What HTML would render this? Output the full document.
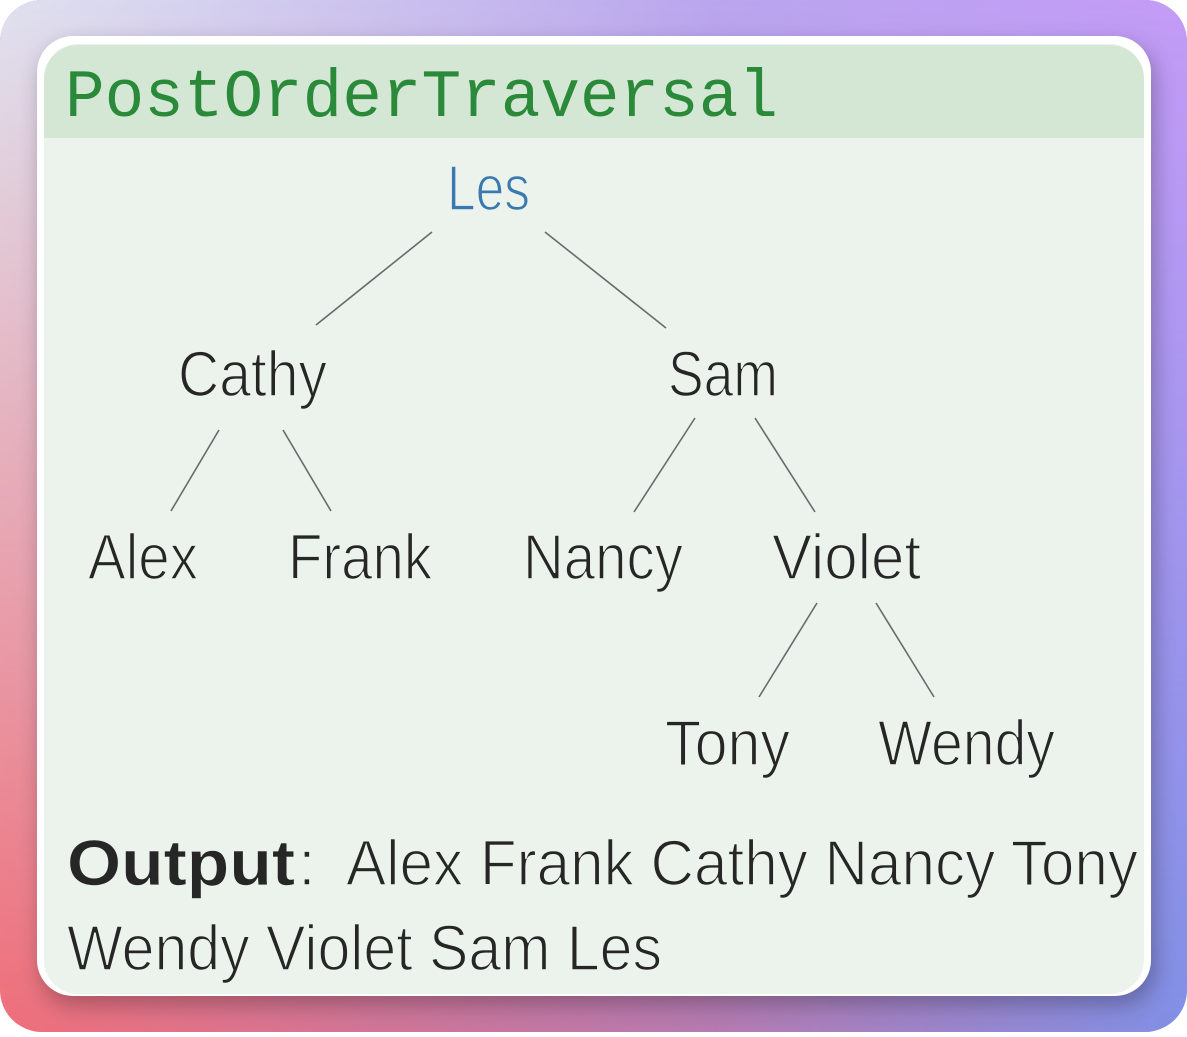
<!DOCTYPE html>
<html><head><meta charset="utf-8"><style>
html,body{margin:0;padding:0;background:#fff;}
body{width:1187px;height:1032px;overflow:hidden;}
</style></head><body>
<svg width="1187" height="1032" viewBox="0 0 1187 1032" xmlns="http://www.w3.org/2000/svg">
<defs>
<linearGradient id="g1" x1="0" y1="0" x2="1" y2="0">
<stop offset="0" stop-color="#dfe2ef"/><stop offset="0.6" stop-color="#b9a6ee"/><stop offset="1" stop-color="#c39bf6"/>
</linearGradient>
<linearGradient id="g2" x1="0" y1="0" x2="1" y2="0">
<stop offset="0" stop-color="#ef6f7a"/><stop offset="0.6" stop-color="#b57ab0"/><stop offset="1" stop-color="#8090e6"/>
</linearGradient>
<linearGradient id="mask" x1="0" y1="0" x2="0" y2="1">
<stop offset="0" stop-color="#fff"/><stop offset="1" stop-color="#000"/>
</linearGradient>
<mask id="m"><rect width="1187" height="1032" fill="url(#mask)"/></mask>
<filter id="sh" x="-10%" y="-10%" width="120%" height="120%"><feGaussianBlur stdDeviation="10"/></filter>
</defs>
<rect x="0" y="0" width="1187" height="1032" rx="42" fill="url(#g2)"/>
<rect x="0" y="0" width="1187" height="1032" rx="42" fill="url(#g1)" mask="url(#m)"/>
<rect x="40" y="44" width="1116" height="962" rx="36" fill="#000" opacity="0.25" filter="url(#sh)"/>
<rect x="37" y="36" width="1114" height="960" rx="36" fill="#ffffff"/>
<path d="M78 44 H1110 a34 34 0 0 1 34 34 V960 a34 34 0 0 1 -34 34 H78 a34 34 0 0 1 -34 -34 V78 a34 34 0 0 1 34 -34 Z" fill="#ebf3ec"/>
<path d="M78 45 H1110 a34 34 0 0 1 34 34 V138 H44 V79 a34 34 0 0 1 34 -34 Z" fill="#d4e7d5"/>
<text x="65" y="116" font-family="Liberation Mono, monospace" font-size="68" fill="#2a8a3a" textLength="713" lengthAdjust="spacingAndGlyphs">PostOrderTraversal</text>
<g stroke="#6a6a6a" stroke-width="1.6" fill="none">
<line x1="432" y1="232" x2="316" y2="325"/>
<line x1="545" y1="232" x2="666" y2="328"/>
<line x1="219" y1="430" x2="171" y2="511"/>
<line x1="283" y1="430" x2="331" y2="511"/>
<line x1="695" y1="418" x2="634" y2="512"/>
<line x1="755" y1="418" x2="815" y2="512"/>
<line x1="817" y1="603" x2="759" y2="697"/>
<line x1="876" y1="603" x2="934" y2="697"/>
</g>
<g font-family="Liberation Sans, DejaVu Sans, sans-serif" font-size="64" fill="#262626" stroke="#ebf3ec" stroke-width="1.6">
<text x="447" y="210" fill="#3a78b0" textLength="83" lengthAdjust="spacingAndGlyphs">Les</text>
<text x="178" y="396" textLength="149" lengthAdjust="spacingAndGlyphs">Cathy</text>
<text x="668" y="396" textLength="110" lengthAdjust="spacingAndGlyphs">Sam</text>
<text x="88" y="579" textLength="110" lengthAdjust="spacingAndGlyphs">Alex</text>
<text x="288" y="579" textLength="144" lengthAdjust="spacingAndGlyphs">Frank</text>
<text x="523" y="579" textLength="160" lengthAdjust="spacingAndGlyphs">Nancy</text>
<text x="772" y="579" textLength="149" lengthAdjust="spacingAndGlyphs">Violet</text>
<text x="665" y="765" textLength="125" lengthAdjust="spacingAndGlyphs">Tony</text>
<text x="878" y="765" textLength="177" lengthAdjust="spacingAndGlyphs">Wendy</text>
<text x="67" y="885" font-weight="bold" stroke-width="0.6" textLength="228" lengthAdjust="spacingAndGlyphs">Output</text>
<text x="298" y="885">:</text>
<text x="346" y="885" textLength="792" lengthAdjust="spacingAndGlyphs">Alex Frank Cathy Nancy Tony</text>
<text x="67" y="970" textLength="595" lengthAdjust="spacingAndGlyphs">Wendy Violet Sam Les</text>
</g>
</svg>
</body></html>
